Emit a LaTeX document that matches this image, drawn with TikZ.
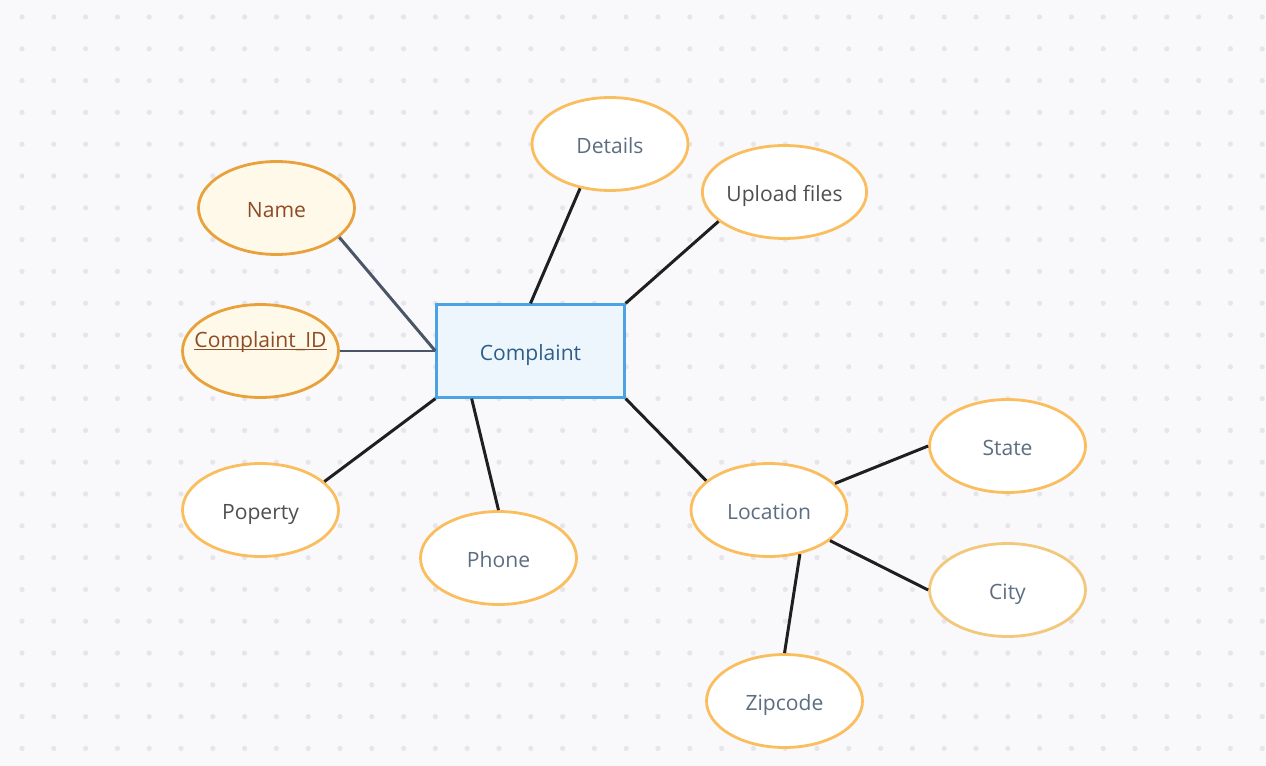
\documentclass[tikz,border=0pt]{standalone}
\usepackage{fontspec}
\setmainfont{Open Sans}
\usetikzlibrary{shapes.geometric}
\definecolor{bgc}{HTML}{F9F9FB}
\definecolor{dotc}{HTML}{E6E6EA}
\definecolor{attrc}{HTML}{FBBE5E}
\definecolor{cityc}{HTML}{F2C97C}
\definecolor{keyc}{HTML}{E9A23B}
\definecolor{keyfill}{HTML}{FFF9EA}
\definecolor{keytext}{HTML}{8E4B25}
\definecolor{entc}{HTML}{4BA3E3}
\definecolor{entfill}{HTML}{EEF6FD}
\definecolor{enttext}{HTML}{2D5F8A}
\definecolor{slate}{HTML}{5E6E82}
\definecolor{grayt}{HTML}{4F4F4F}
\definecolor{linkc}{HTML}{4A5568}
\newcommand\keyline[1]{\setbox0\hbox{#1}\rlap{\rule[-1.6pt]{\wd0}{0.7pt}}\box0}
\tikzset{
  attrib/.style={ellipse, draw=attrc, fill=white, line width=1.6pt, minimum width=3.12cm, minimum height=1.86cm, inner sep=0pt, text=slate, text height=10.6pt, text depth=0pt, font=\fontsize{12}{14}\selectfont},
  keyattr/.style={attrib, draw=keyc, fill=keyfill, text=keytext},
  entity/.style={rectangle, draw=entc, fill=entfill, line width=1.6pt, minimum width=3.75cm, minimum height=1.85cm, text=enttext, text height=10.6pt, text depth=0pt, font=\fontsize{12}{14}\selectfont},
  link/.style={line width=1.7pt, color=black!88}
}
\begin{document}
\begin{tikzpicture}[x=0.02cm,y=-0.02cm]
	\fill[bgc] (0,0) rectangle (1266,766);
	\useasboundingbox (0,0) rectangle (1266,766);
	\foreach \i in {0,...,39}
		\foreach \j in {0,...,23}
			\fill[dotc] (22+31.8*\i,17+31.8*\j) circle (2.6);
	%entity
	\node[entity] (C) at (530.5,351) {Complaint};
	%attributes of the complaint
	\node[keyattr] (Nm) at (276.5,208) {Name};
	\node[keyattr, label={[text=keytext, font=\fontsize{12}{14}\selectfont, text height=10.6pt, text depth=0pt, yshift=0.26cm]center:\keyline{Complaint\_ID}}] (ID) at (260.5,351) {};
	\node[attrib] (Dt) at (610,144) {Details};
	\node[attrib, text=grayt] (Up) at (784.5,192) {Upload files};
	\node[attrib, text=grayt] (Pr) at (260.5,510) {Poperty};
	\node[attrib] (Ph) at (498.5,558) {Phone};
	\node[attrib] (Lc) at (769,510) {Location};
	%parts of the location
	\node[attrib] (St) at (1007.5,446) {State};
	\node[attrib, draw=cityc] (Ct) at (1007.5,590) {City};
	\node[attrib] (Zp) at (784.5,701) {Zipcode};
	\draw[link, linkc] (Nm.335)--(C.west);
	\draw[link, linkc] (ID)--(C.west);
	\draw[link] (Dt.236)--(C.north);
	\draw[link] (Up.204)--(C.north east);
	\draw[link] (Pr.24)--(C.south west);
	\draw[link] (C.219)--(Ph.north);
	\draw[link] (C.south east)--(Lc.155);
	\draw[link] (Lc)--(St.west);
	\draw[link] (Lc)--(Ct.west);
	\draw[link] (Lc.305)--(Zp.north);
\end{tikzpicture}
\end{document}
